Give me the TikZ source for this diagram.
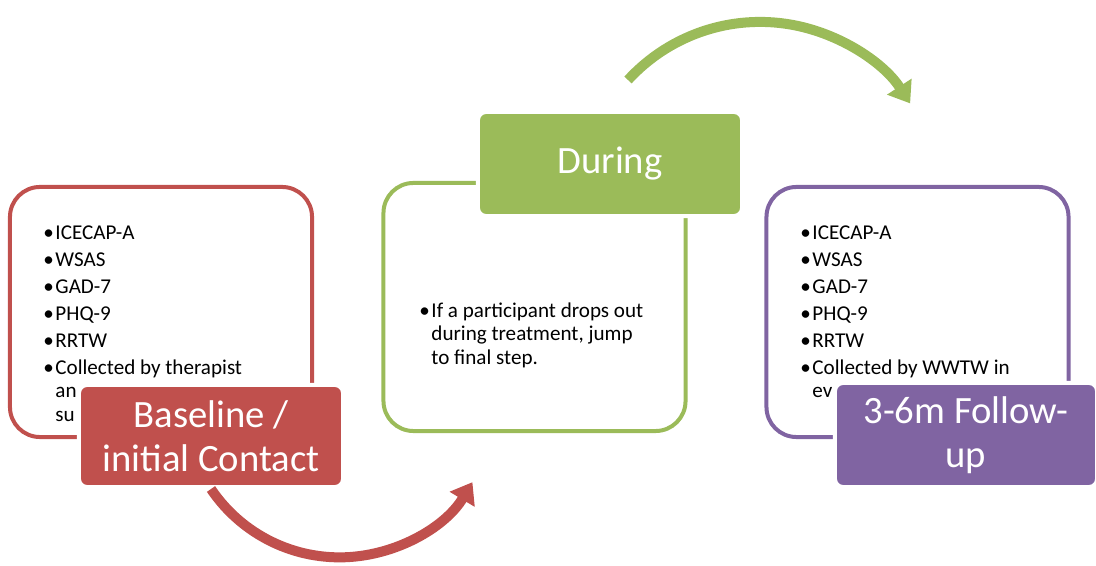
\documentclass[tikz,border=0pt]{standalone}
\usepackage{fontspec}
\setmainfont{Carlito}
\usetikzlibrary{arrows.meta}
\definecolor{basered}{RGB}{192,80,77}
\definecolor{duringgreen}{RGB}{155,187,89}
\definecolor{followpurple}{RGB}{128,100,162}

\begin{document}
\begin{tikzpicture}[x=0.025cm,y=0.025cm,
    panel/.style={draw,line width=0.1cm,rounded corners=0.75cm,
      minimum width=7.55cm,minimum height=6.25cm,inner sep=0pt},
    stagetitle/.style={draw=white,line width=0.1cm,rounded corners=0.2cm,
      text=white,align=center,inner sep=0pt,
      font=\fontsize{27.5}{31}\selectfont,minimum width=6.6cm,minimum height=2.55cm},
    itemlist/.style={anchor=north west,inner sep=0pt,align=left,
      font=\fontsize{15}{17}\selectfont},
    turnarrow/.style={line width=0.25cm,-{Triangle[width=0.7cm,length=0.5cm]}}]
        \useasboundingbox (0,0) rectangle (1096,565);
        % outlined panels
        \node[panel,draw=basered] (basepanel) at (161,253) {};
        \node[panel,draw=duringgreen,minimum height=6.2cm] (duringpanel) at (534.5,258) {};
        \node[panel,draw=followpurple] (followpanel) at (917.5,253) {};
        % bullet lists
        \node[itemlist] (baselist) at (43,343) {\begin{tabular}{@{}l@{\hspace{1.2pt}}l@{}}
          \textbullet & ICECAP-A\\[2.2pt]
          \textbullet & WSAS\\[2.2pt]
          \textbullet & GAD-7\\[2.2pt]
          \textbullet & PHQ-9\\[2.2pt]
          \textbullet & RRTW\\[2.2pt]
          \textbullet & Collected by therapist\\
                      & an\\
                      & su
        \end{tabular}};
        \node[itemlist] (duringlist) at (419,265) {\begin{tabular}{@{}l@{\hspace{1.2pt}}l@{}}
          \textbullet & If a participant drops out\\
                      & during treatment, jump\\
                      & to final step.
        \end{tabular}};
        \node[itemlist] (followlist) at (800,343) {\begin{tabular}{@{}l@{\hspace{1.2pt}}l@{}}
          \textbullet & ICECAP-A\\[2.2pt]
          \textbullet & WSAS\\[2.2pt]
          \textbullet & GAD-7\\[2.2pt]
          \textbullet & PHQ-9\\[2.2pt]
          \textbullet & RRTW\\[2.2pt]
          \textbullet & Collected by WWTW in\\
                      & ev
        \end{tabular}};
        % stage titles
        \node[stagetitle,fill=basered] (basetitle) at (211,129) {Baseline /\\initial Contact};
        \node[stagetitle,fill=duringgreen,minimum height=2.6cm] (duringtitle) at (610,401) {During};
        \node[stagetitle,fill=followpurple,minimum width=6.55cm,minimum height=2.6cm] (followtitle) at (966,130) {3-6m Follow-\\up};
        % curved arrows
        \coordinate (greentail) at (628,485);
        \draw[turnarrow,basered] (basetitle.south) arc[start angle=214,end angle=329,radius=3.875cm];
        \draw[turnarrow,duringgreen] (greentail) arc[start angle=137.5,end angle=33,radius=4.475cm];
\end{tikzpicture}
\end{document}
